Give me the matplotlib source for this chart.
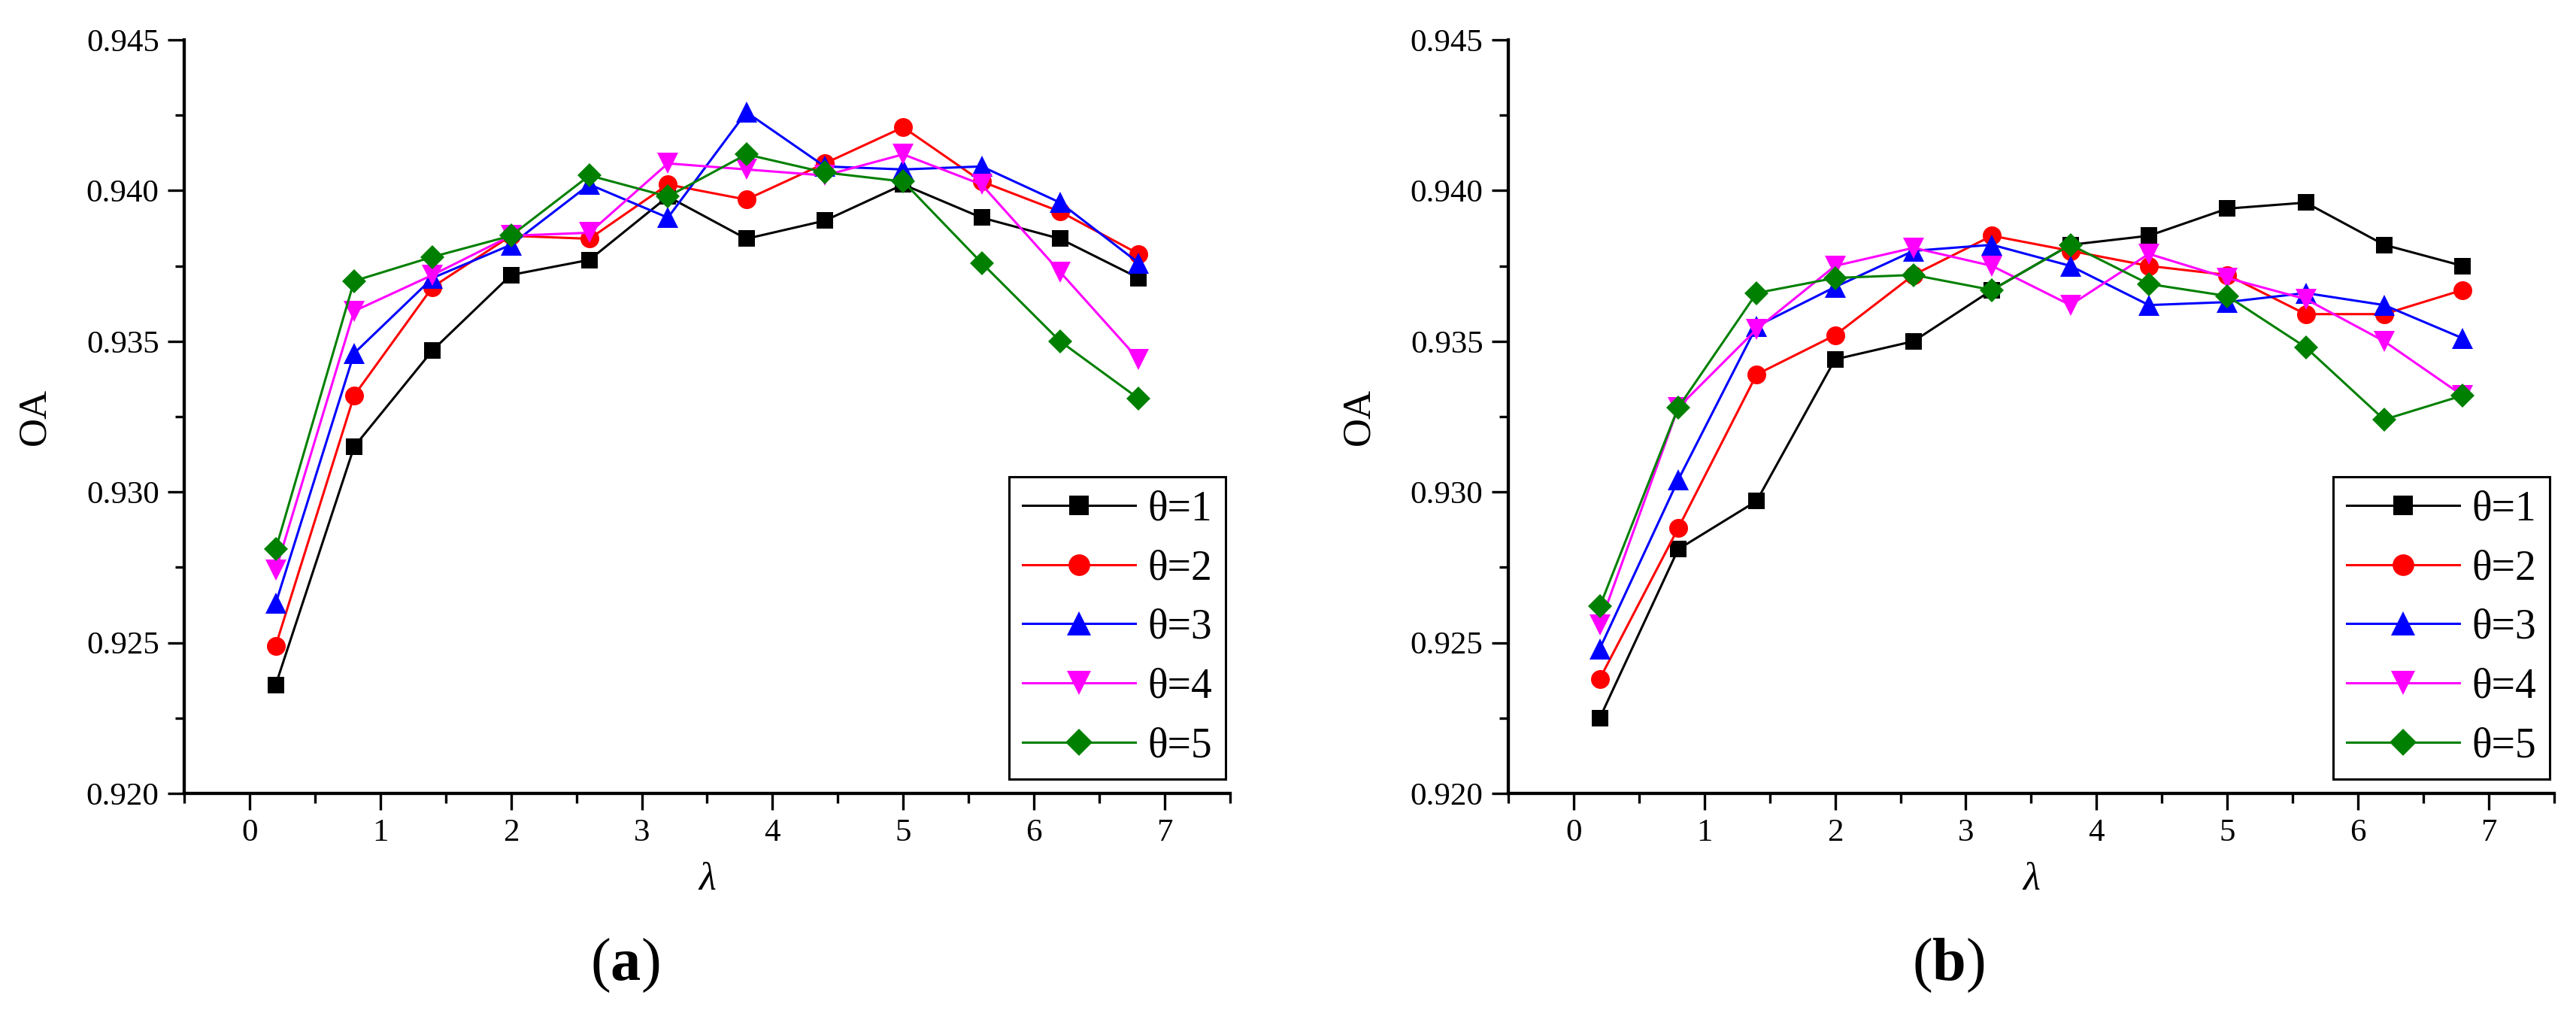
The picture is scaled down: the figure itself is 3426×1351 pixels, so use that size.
import numpy as np
import matplotlib
matplotlib.use("Agg")
import matplotlib.pyplot as plt
from matplotlib.ticker import MultipleLocator, FormatStrFormatter

plt.rcParams["font.family"] = ["Liberation Serif", "DejaVu Serif"]
plt.rcParams["mathtext.fontset"] = "custom"
plt.rcParams["mathtext.rm"] = "Liberation Serif"
plt.rcParams["mathtext.bf"] = "Liberation Serif:bold"
plt.rcParams["mathtext.it"] = "Liberation Serif:italic"

# lambda values (same for both panels)
lam = [0.2, 0.8, 1.4, 2.0, 2.6, 3.2, 3.8, 4.4, 5.0, 5.6, 6.2, 6.8]
theta_labels = ["θ=1", "θ=2", "θ=3", "θ=4", "θ=5"]

# panel (a) OA values
a_t1 = [0.9236, 0.9315, 0.9347, 0.9372, 0.9377, 0.9398, 0.9384, 0.9390, 0.9402, 0.9391, 0.9384, 0.9371]
a_t2 = [0.9249, 0.9332, 0.9368, 0.9385, 0.9384, 0.9402, 0.9397, 0.9409, 0.9421, 0.9403, 0.9393, 0.9379]
a_t3 = [0.9263, 0.9346, 0.9371, 0.9382, 0.9402, 0.9391, 0.9426, 0.9408, 0.9407, 0.9408, 0.9396, 0.9376]
a_t4 = [0.9274, 0.9360, 0.9372, 0.9385, 0.9386, 0.9409, 0.9407, 0.9405, 0.9412, 0.9402, 0.9373, 0.9344]
a_t5 = [0.9281, 0.9370, 0.9378, 0.9385, 0.9405, 0.9398, 0.9412, 0.9406, 0.9403, 0.9376, 0.9350, 0.9331]

# panel (b) OA values
b_t1 = [0.9225, 0.9281, 0.9297, 0.9344, 0.9350, 0.9367, 0.9382, 0.9385, 0.9394, 0.9396, 0.9382, 0.9375]
b_t2 = [0.9238, 0.9288, 0.9339, 0.9352, 0.9372, 0.9385, 0.9380, 0.9375, 0.9372, 0.9359, 0.9359, 0.9367]
b_t3 = [0.9248, 0.9304, 0.9355, 0.9368, 0.9380, 0.9382, 0.9375, 0.9362, 0.9363, 0.9366, 0.9362, 0.9351]
b_t4 = [0.9256, 0.9328, 0.9354, 0.9375, 0.9381, 0.9375, 0.9362, 0.9379, 0.9371, 0.9364, 0.9350, 0.9332]
b_t5 = [0.9262, 0.9328, 0.9366, 0.9371, 0.9372, 0.9367, 0.9382, 0.9369, 0.9365, 0.9348, 0.9324, 0.9332]

colors = ["black", "red", "blue", "magenta", "#008000"]
markers = ["s", "o", "^", "v", "D"]
msizes = [16, 18, 20, 20, 16]

fig = plt.figure(figsize=(34.26, 13.51), dpi=100)

panels = [
    (0.0715, [a_t1, a_t2, a_t3, a_t4, a_t5], "(a)"),
    (0.5855, [b_t1, b_t2, b_t3, b_t4, b_t5], "(b)"),
]

for left, series, tag in panels:
    ax = fig.add_axes([left, 0.2191, 0.406, 0.7417])
    for vals, c, m, ms, lab in zip(series, colors, markers, msizes, theta_labels):
        ax.plot(lam, vals, color=c, marker=m, markersize=ms, linewidth=2.2,
                markeredgewidth=0, label=lab)

    ax.set_xlim(-0.5, 7.5)
    ax.set_ylim(0.920, 0.945)
    ax.xaxis.set_major_locator(MultipleLocator(1))
    ax.xaxis.set_minor_locator(MultipleLocator(0.5))
    ax.yaxis.set_major_locator(MultipleLocator(0.005))
    ax.yaxis.set_minor_locator(MultipleLocator(0.0025))
    ax.yaxis.set_major_formatter(FormatStrFormatter("%.3f"))

    ax.spines["top"].set_visible(False)
    ax.spines["right"].set_visible(False)
    ax.spines["left"].set_linewidth(3.1)
    ax.spines["bottom"].set_linewidth(3.1)
    ax.tick_params(which="major", direction="out", length=16, width=2.4,
                   labelsize=31, pad=8)
    ax.tick_params(which="minor", direction="out", length=9, width=2.4)

    ax.set_ylabel("OA", fontsize=38, labelpad=32)
    ax.set_xlabel("λ", fontsize=38, style="italic", labelpad=14)

    leg = ax.legend(loc="lower right", bbox_to_anchor=(0.996, 0.019),
                    borderaxespad=0, fontsize=40, handlelength=2.7,
                    handletextpad=0.3, labelspacing=0.48, borderpad=0.32,
                    markerscale=1.15, fancybox=False, framealpha=1,
                    edgecolor="black")
    leg.get_frame().set_linewidth(2.2)

    cx = left + 0.406 * 0.5 - 0.032
    fig.text(cx, 0.05, tag[0] + r"$\mathbf{" + tag[1] + "}$" + tag[2],
             fontsize=58, ha="center", va="center")

fig.savefig("out.png", dpi=100, facecolor="white")
